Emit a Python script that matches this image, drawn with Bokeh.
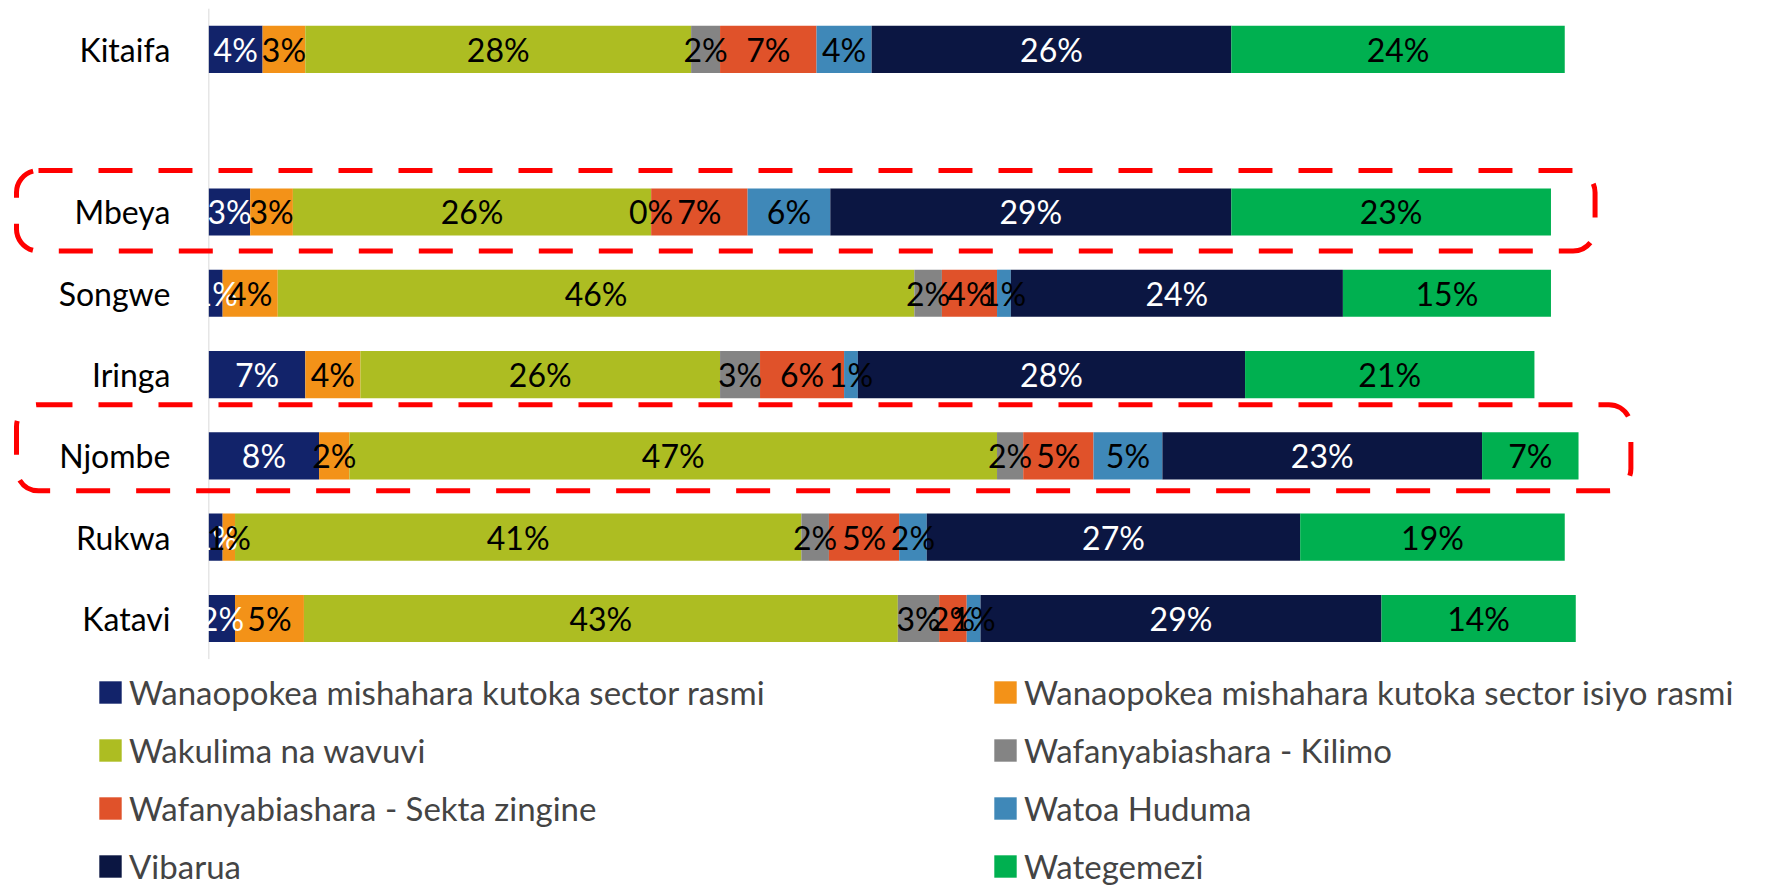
from bokeh.plotting import figure
from bokeh.models import Range1d, Legend, LegendItem, BoxAnnotation, ColumnDataSource
from bokeh.core.properties import value
from bokeh.embed import file_html
from bokeh.resources import INLINE

regions = ["Kitaifa", "Mbeya", "Songwe", "Iringa", "Njombe", "Rukwa", "Katavi"]
highlighted = ["Mbeya", "Njombe"]

series = [
    "Wanaopokea mishahara kutoka sector rasmi",
    "Wanaopokea mishahara kutoka sector isiyo rasmi",
    "Wakulima na wavuvi",
    "Wafanyabiashara - Kilimo",
    "Wafanyabiashara - Sekta zingine",
    "Watoa Huduma",
    "Vibarua",
    "Wategemezi",
]

# percent values per region (Kitaifa, Mbeya, Songwe, Iringa, Njombe, Rukwa, Katavi)
sekta_rasmi = [3.9, 3.0, 1.0, 7.0, 8.0, 1.0, 1.9]
sekta_isiyo_rasmi = [3.1, 3.1, 4.0, 4.0, 2.2, 0.9, 5.0]
wakulima = [28.0, 26.0, 46.2, 26.1, 47.0, 41.1, 43.1]
biashara_kilimo = [2.1, 0.0, 2.0, 2.9, 1.9, 2.0, 3.0]
biashara_zingine = [7.0, 7.0, 4.0, 6.1, 5.1, 5.1, 2.0]
watoa_huduma = [4.0, 6.0, 1.0, 1.0, 5.0, 2.0, 1.0]
vibarua = [26.1, 29.1, 24.1, 28.1, 23.2, 27.1, 29.1]
wategemezi = [24.2, 23.2, 15.1, 21.0, 7.0, 19.2, 14.1]

values = [sekta_rasmi, sekta_isiyo_rasmi, wakulima, biashara_kilimo,
          biashara_zingine, watoa_huduma, vibarua, wategemezi]
colors = ["#12236a", "#f39218", "#adbd22", "#848484", "#e0522a", "#3f88b8", "#0b1642", "#00b050"]
label_colors = ["white", "black", "black", "black", "black", "black", "white", "black"]

FONT = "Lato"

# Kitaifa on top, one empty slot, then the regions
n = len(regions)
positions = [n] + list(range(n - 2, -1, -1))

p = figure(width=1781, height=887, output_backend="svg", toolbar_location=None,
           x_range=Range1d(-15.12, 114.13), y_range=Range1d(-3.309, 7.601),
           x_axis_location=None, y_axis_location=None,
           min_border_left=0, min_border_right=0, min_border_top=0, min_border_bottom=0)
p.outline_line_color = None
p.xgrid.visible = False
p.ygrid.visible = False
p.background_fill_color = "white"
p.border_fill_color = "white"

# category axis: line at zero plus category labels
p.segment(x0=[0], x1=[0], y0=[-0.5], y1=[n + 0.5], line_color="#d9d9d9", line_width=1)
p.text(x=[-2.79] * n, y=positions, text=regions, text_align="right", text_baseline="middle",
       text_color="black", text_font=value(FONT), text_font_size="32px")

renderers = []
label_sources = []
cum = [0.0] * n
for vals, col, lcol in zip(values, colors, label_colors):
    left = list(cum)
    right = [a + b for a, b in zip(cum, vals)]
    src = ColumnDataSource(dict(y=positions, left=left, right=right,
                                mid=[(a + b) / 2 for a, b in zip(left, right)],
                                txt=[f"{round(v)}%" for v in vals]))
    r = p.hbar(y="y", left="left", right="right", height=0.58, source=src,
               fill_color=col, line_color=None)
    renderers.append(r)
    label_sources.append((src, lcol))
    cum = right

for src, lcol in label_sources:
    p.text(x="mid", y="y", text="txt", source=src, text_align="center",
           text_baseline="middle", text_color=lcol, text_font=value(FONT),
           text_font_size="32px")

# dashed highlight boxes
box_specs = {"Mbeya": (0.51, 0.48, 100.6), "Njombe": (0.63, 0.43, 103.2)}
for name in highlighted:
    yc = positions[regions.index(name)]
    up, down, right = box_specs[name]
    p.add_layout(BoxAnnotation(left=-13.96, right=right, bottom=yc - down, top=yc + up,
                               fill_alpha=0, line_alpha=1.0, line_color="#ff0000",
                               line_width=5, line_dash="34 26", border_radius=22,
                               level="overlay"))

def make_legend(idx, loc):
    items = [LegendItem(label=series[i], renderers=[renderers[i]]) for i in idx]
    return Legend(items=items, location=loc, orientation="vertical",
                  label_text_font=FONT, label_text_font_size="33px",
                  glyph_width=28, glyph_height=28, label_height=22,
                  label_standoff=5, spacing=18, padding=0, margin=0,
                  border_line_color=None, background_fill_alpha=0)

p.add_layout(make_legend([0, 2, 4, 6], (96, 1)))
p.add_layout(make_legend([1, 3, 5, 7], (991, 1)))

open("out.html", "w").write(file_html(p, INLINE))
